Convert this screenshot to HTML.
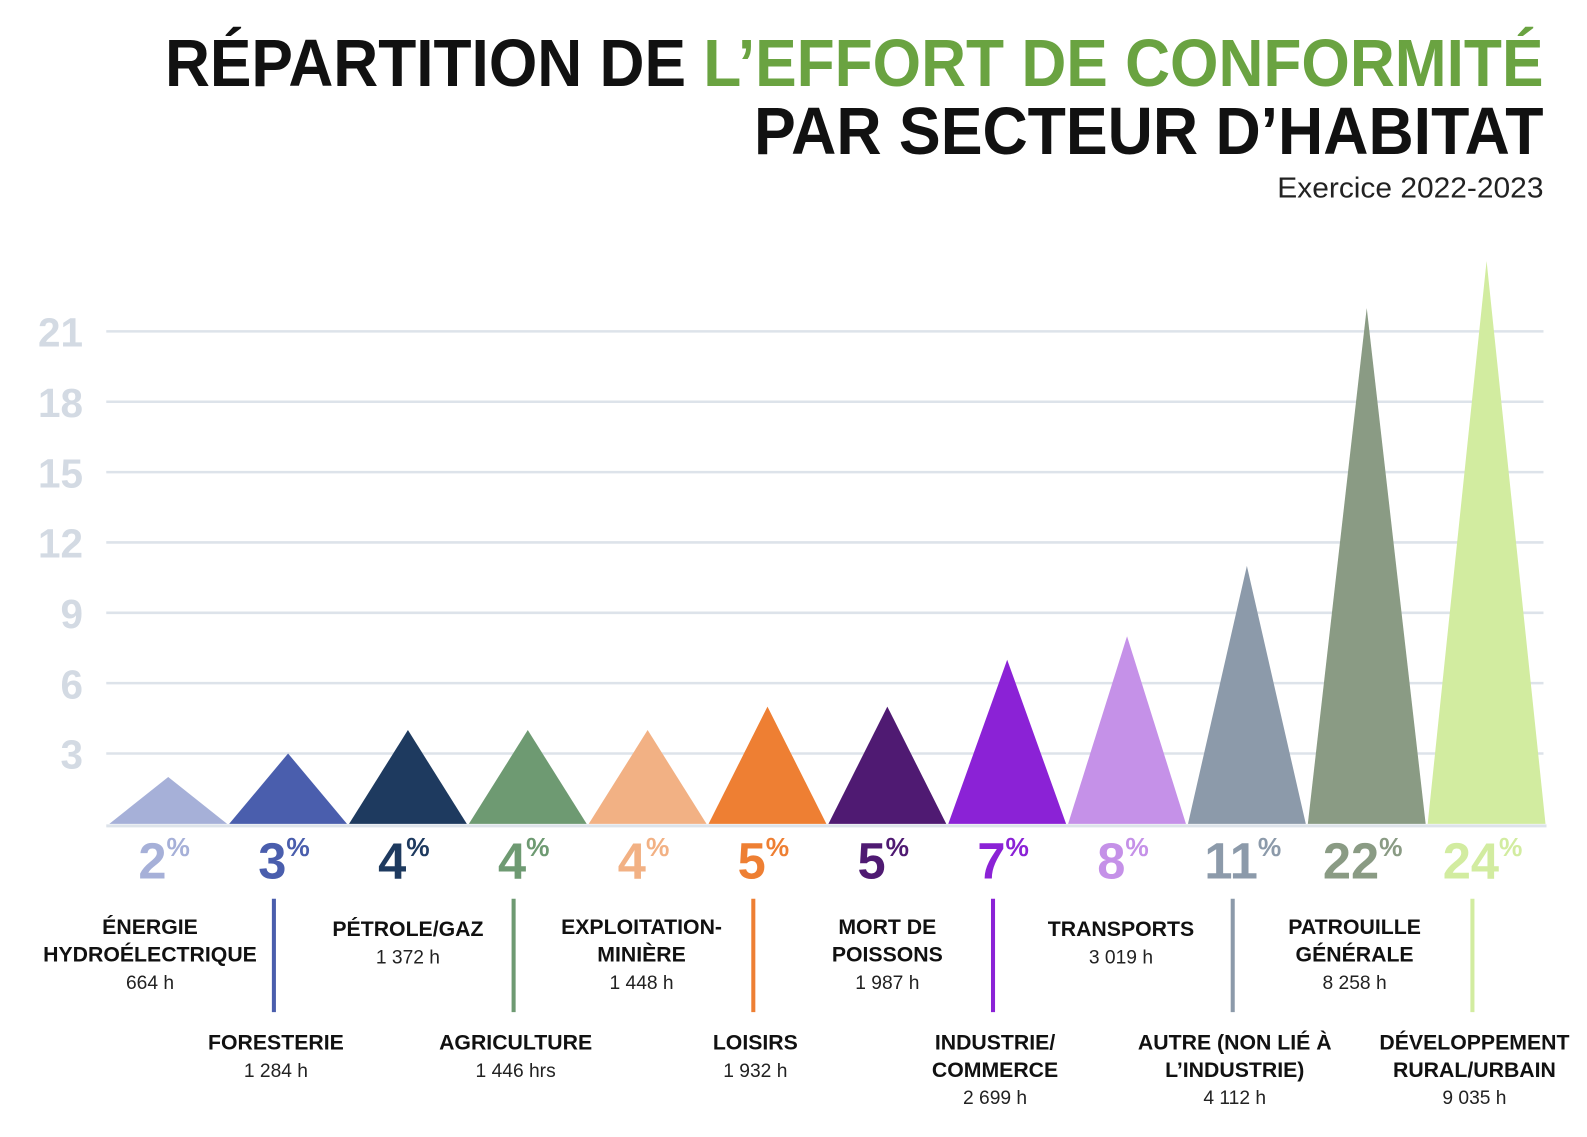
<!DOCTYPE html>
<html><head><meta charset="utf-8"><style>
html,body{margin:0;padding:0;background:#fff;}
svg{display:block;font-family:"Liberation Sans",sans-serif;}
</style></head><body>
<svg id="chart" width="1587" height="1137" viewBox="0 0 1568 1123.4" preserveAspectRatio="none" xmlns="http://www.w3.org/2000/svg">
<g>
<text x="1525" y="85" text-anchor="end" font-size="66" font-weight="bold" textLength="1362" lengthAdjust="spacingAndGlyphs"><tspan fill="#111">RÉPARTITION DE </tspan><tspan fill="#6aa341">L’EFFORT DE CONFORMITÉ</tspan></text>
<text x="1525" y="152" text-anchor="end" font-size="66" font-weight="bold" fill="#111" textLength="780" lengthAdjust="spacingAndGlyphs">PAR SECTEUR D’HABITAT</text>
<text x="1525" y="195" text-anchor="end" font-size="28" fill="#222" textLength="263" lengthAdjust="spacingAndGlyphs">Exercice 2022-2023</text>
</g>
<g id="grid"></g>
<g id="marks"></g>
<g id="labels"></g>
</svg>
<script>
const categories=["ÉNERGIE|HYDROÉLECTRIQUE","FORESTERIE","PÉTROLE/GAZ","AGRICULTURE","EXPLOITATION-|MINIÈRE","LOISIRS","MORT DE|POISSONS","INDUSTRIE/|COMMERCE","TRANSPORTS","AUTRE (NON LIÉ À|L’INDUSTRIE)","PATROUILLE|GÉNÉRALE","DÉVELOPPEMENT|RURAL/URBAIN"];
const values=[2,3,4,4,4,5,5,7,8,11,22,24];
const hours=["664 h","1 284 h","1 372 h","1 446 hrs","1 448 h","1 932 h","1 987 h","2 699 h","3 019 h","4 112 h","8 258 h","9 035 h"];
const colors=["#a6b0d8","#4a5ead","#1e3a5f","#6e9a72","#f2b184","#ee7f33","#4f1a72","#8b22d6","#c591e8","#8c9aaa","#8a9b84","#d2eca0"];
const yTicks=[3,6,9,12,15,18,21];
const NS="http://www.w3.org/2000/svg";
const x0=107,x1=1528,base=814,perUnit=23.17;
const bw=(x1-x0)/values.length;
function y(v){return base-v*perUnit;}
function cx(i){return x0+bw*(i+0.5);}
function mk(tag,attrs,parent){const e=document.createElementNS(NS,tag);for(const k in attrs)e.setAttribute(k,attrs[k]);parent.appendChild(e);return e;}
const grid=document.getElementById('grid'),marks=document.getElementById('marks'),labels=document.getElementById('labels');
yTicks.forEach(t=>{
  const l=mk('line',{x1:105,x2:1525,y1:y(t),y2:y(t),stroke:'#dde3ea','stroke-width':2.5},grid);
  
  
  const tx=mk('text',{x:82,y:y(t)+15,'text-anchor':'end','font-size':40,'font-weight':'bold',fill:'#d3dae3'},grid);
  tx.textContent=t;
  
  
});
const bl=mk('line',{x1:105,x2:1528,y1:base+2,y2:base+2,stroke:'#dde3ea','stroke-width':3},grid);


values.forEach((v,i)=>{
  const c=cx(i),l=c-bw/2+1,r=c+bw/2-1;
  const p=mk('polygon',{points:`${l},${base} ${c},${y(v)} ${r},${base}`,fill:colors[i]},marks);
  
  
  const pt=mk('text',{x:c-4,y:868,'text-anchor':'middle','font-size':50,'font-weight':'bold',fill:colors[i]},labels);
  
  
  const n=document.createElementNS(NS,'tspan');n.textContent=v;pt.appendChild(n);
  const s=document.createElementNS(NS,'tspan');s.textContent='%';s.setAttribute('font-size','26');s.setAttribute('dy','-22');pt.appendChild(s);
  const lines=categories[i].split('|');
  const upper=i%2===0;
  let lx=c, ty;
  if(upper){
    const offs=[-18,0,-6,0,-6,-12];
    lx=c+(offs[i/2]||0);
    ty=lines.length>1?923:925;
  } else {
    const ln=mk('line',{x1:c-14,x2:c-14,y1:888,y2:1000,stroke:colors[i],'stroke-width':4},labels);
    
    
    lx=c-12;
    ty=1037;
  }
  const g=mk('text',{x:lx,y:ty,'text-anchor':'middle','font-size':21,'font-weight':'bold',fill:'#111'},labels);
  
  
  lines.forEach((t,k)=>{const ts=document.createElementNS(NS,'tspan');ts.setAttribute('x',lx);ts.setAttribute('dy',k?27:0);ts.textContent=t;g.appendChild(ts);});
  const h=mk('text',{x:lx,y:ty+lines.length*27,'text-anchor':'middle','font-size':19,fill:'#222'},labels);
  h.textContent=hours[i];
  
  
});
</script>
</body></html>
